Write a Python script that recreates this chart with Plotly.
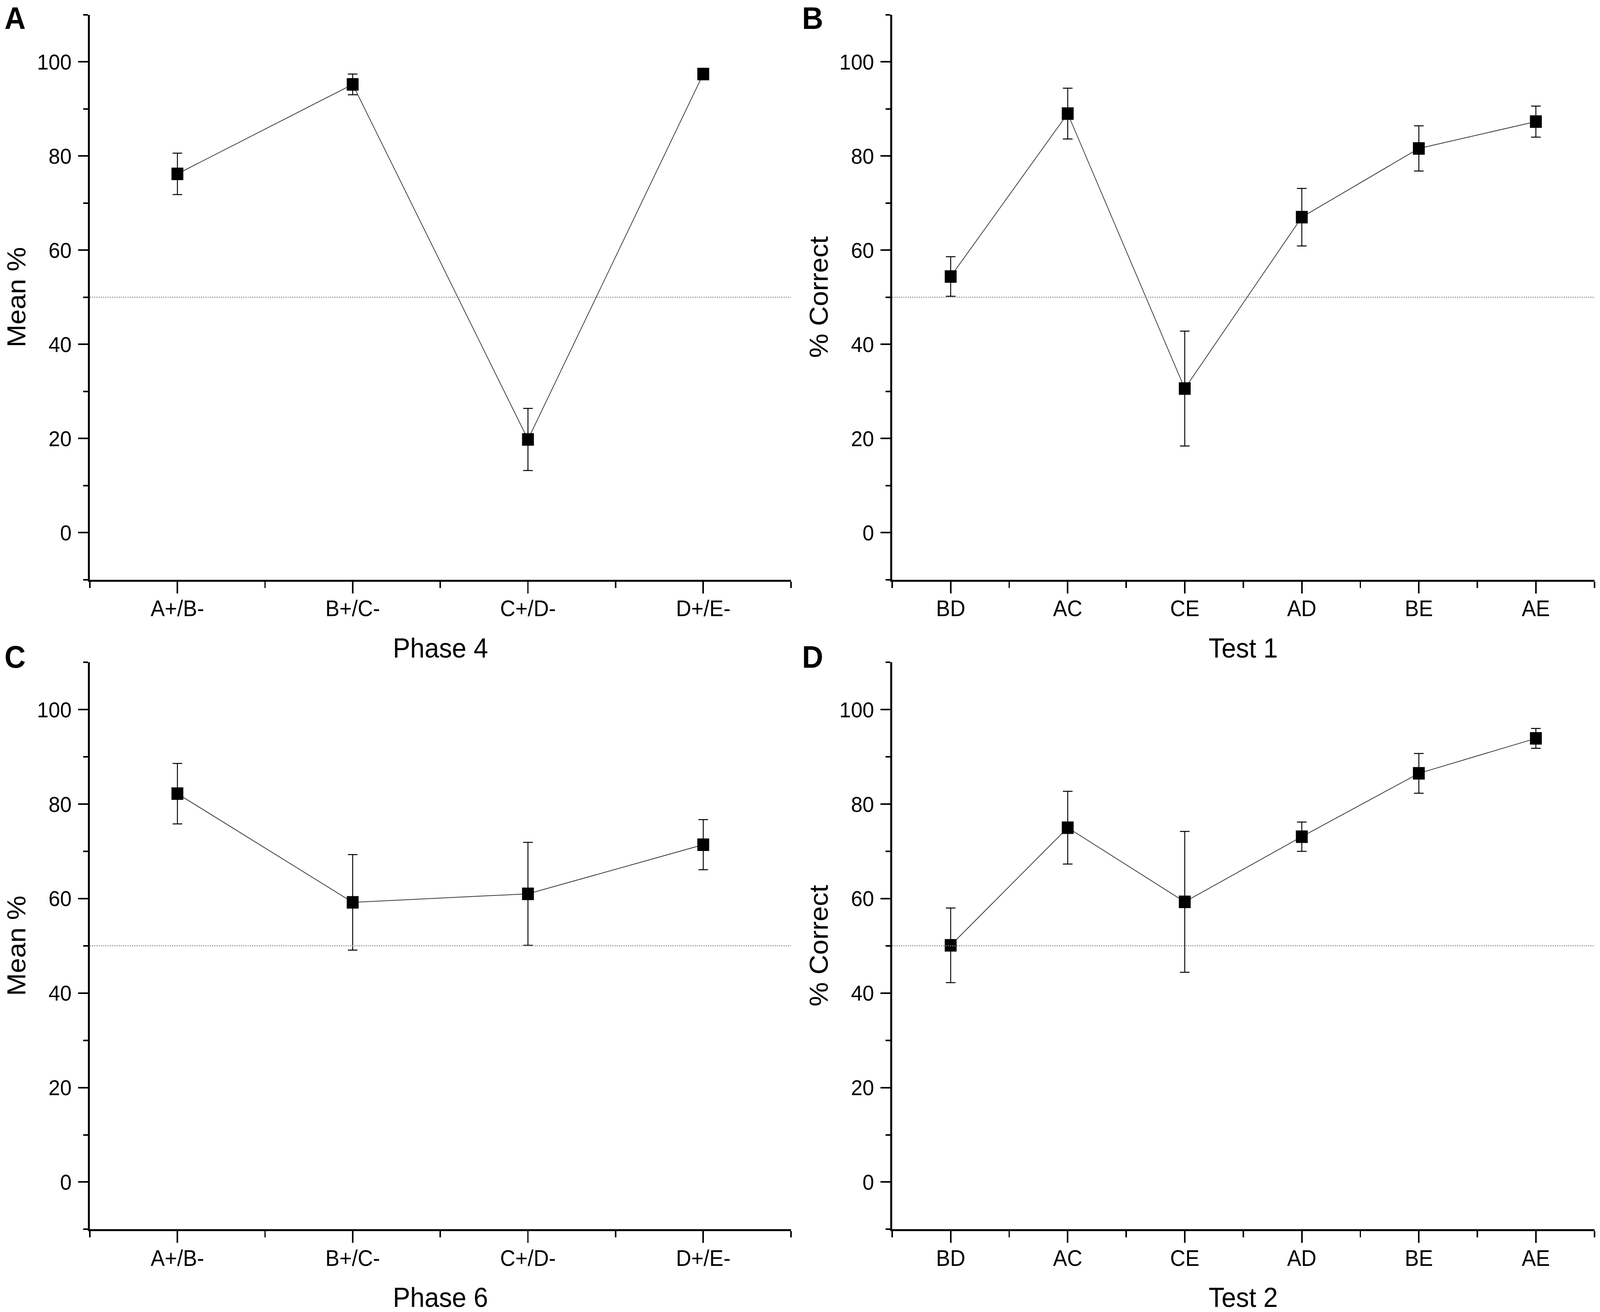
import plotly.graph_objects as go

# values (mean % and error bar half-length)
phase_cats = ["A+/B-", "B+/C-", "C+/D-", "D+/E-"]
test_cats = ["BD", "AC", "CE", "AD", "BE", "AE"]

phase4_mean = [76.2, 95.2, 19.8, 97.4]
phase4_err = [4.4, 2.2, 6.6, 0.8]

test1_mean = [54.4, 89.0, 30.6, 67.0, 81.6, 87.3]
test1_err = [4.2, 5.4, 12.2, 6.1, 4.8, 3.3]

phase6_mean = [82.2, 59.2, 61.0, 71.4]
phase6_err = [6.4, 10.1, 10.9, 5.3]

test2_mean = [50.1, 75.0, 59.3, 73.1, 86.5, 93.9]
test2_err = [7.9, 7.7, 14.9, 3.1, 4.2, 2.1]

chance = 50

W, H = 4317, 3358
FONT = "Arial, Liberation Sans, sans-serif"

panels = [
    # letter, cats, mean, err, xtitle, ytitle, x domain, y domain, letter pos
    ("A", phase_cats, phase4_mean, phase4_err, "Phase 4", "Mean %",
     [0.0561, 0.4943], [0.5581, 0.9888], (0.0023, 1.0)),
    ("B", test_cats, test1_mean, test1_err, "Test 1", "% Correct",
     [0.5576, 0.9965], [0.5581, 0.9888], (0.5008, 1.0)),
    ("C", phase_cats, phase6_mean, phase6_err, "Phase 6", "Mean %",
     [0.0561, 0.4943], [0.0630, 0.4952], (0.0023, 0.5131)),
    ("D", test_cats, test2_mean, test2_err, "Test 2", "% Correct",
     [0.5576, 0.9965], [0.0630, 0.4952], (0.5008, 0.5131)),
]

fig = go.Figure()
layout = {}
annotations = []
shapes = []

for i, (letter, cats, mean, err, xtitle, ytitle, xdom, ydom, lpos) in enumerate(panels):
    n = i + 1
    xa = "x" if n == 1 else f"x{n}"
    ya = "y" if n == 1 else f"y{n}"
    idx = list(range(len(cats)))

    fig.add_trace(go.Scatter(
        x=idx, y=mean, xaxis=xa, yaxis=ya,
        mode="lines+markers",
        line=dict(color="#3a3a3a", width=2),
        marker=dict(symbol="square", size=32, color="black"),
        error_y=dict(type="data", array=err, visible=True,
                     color="black", thickness=2.5, width=13),
        showlegend=False,
    ))

    layout["xaxis" if n == 1 else f"xaxis{n}"] = dict(
        domain=xdom, anchor=ya,
        range=[-0.5, len(cats) - 0.5],
        tickmode="array", tickvals=idx, ticktext=cats,
        ticks="outside", ticklen=30, tickwidth=4, tickcolor="black",
        minor=dict(tickmode="array", tickvals=[k - 0.5 for k in range(len(cats) + 1)],
                   ticks="outside", ticklen=16, tickwidth=4, tickcolor="black"),
        showline=True, linewidth=4.5, linecolor="black",
        showgrid=False, zeroline=False,
        tickfont=dict(family=FONT, size=57, color="black"),
        ticklabelstandoff=-10,
    )
    layout["yaxis" if n == 1 else f"yaxis{n}"] = dict(
        domain=ydom, anchor=xa,
        range=[-10, 110],
        tickmode="array", tickvals=[0, 20, 40, 60, 80, 100],
        ticks="outside", ticklen=27, tickwidth=4, tickcolor="black",
        minor=dict(tickmode="array", tickvals=[-10, 10, 30, 50, 70, 90, 110],
                   ticks="outside", ticklen=13, tickwidth=4, tickcolor="black"),
        showline=True, linewidth=4.5, linecolor="black",
        showgrid=False, zeroline=False,
        tickfont=dict(family=FONT, size=56, color="black"),
        ticklabelstandoff=6,
    )

    # dotted chance line
    shapes.append(dict(type="line", xref=f"{xa} domain", yref=ya,
                       x0=0, x1=1, y0=chance, y1=chance,
                       line=dict(color="#8a8a8a", width=2.5, dash="dot")))

    # axis titles
    annotations.append(dict(text=xtitle, xref=f"{xa} domain", yref=f"{ya} domain",
                            x=0.5, y=0, xanchor="center", yanchor="top", yshift=-134,
                            showarrow=False, font=dict(family=FONT, size=70, color="black")))
    annotations.append(dict(text=ytitle, xref=f"{xa} domain", yref=f"{ya} domain",
                            x=0, y=0.5, xanchor="center", yanchor="middle", xshift=-198,
                            textangle=-90, showarrow=False,
                            font=dict(family=FONT, size=70, color="black")))
    # panel letter
    annotations.append(dict(text=f"<b>{letter}</b>", xref="paper", yref="paper",
                            x=lpos[0], y=lpos[1],
                            xanchor="left", yanchor="top", showarrow=False,
                            font=dict(family=FONT, size=79, color="black")))

fig.update_layout(
    width=W, height=H, autosize=False,
    margin=dict(l=0, r=0, t=0, b=0),
    paper_bgcolor="white", plot_bgcolor="white",
    annotations=annotations, shapes=shapes,
    **layout,
)

# fit the fixed-size figure to the window the page is opened in
fit_js = """
var gd = document.getElementById('{plot_id}');
var kx = window.innerWidth / %d, ky = window.innerHeight / %d;
document.documentElement.style.overflow = 'hidden';
document.body.style.margin = '0';
document.body.style.overflow = 'hidden';
var wrap = gd.parentElement;
wrap.style.width = window.innerWidth + 'px';
wrap.style.height = window.innerHeight + 'px';
wrap.style.overflow = 'hidden';
gd.style.transformOrigin = '0 0';
gd.style.transform = 'scale(' + kx + ',' + ky + ')';
""" % (W, H)

fig.write_html("out.html", post_script=fit_js, config={"displayModeBar": False})
